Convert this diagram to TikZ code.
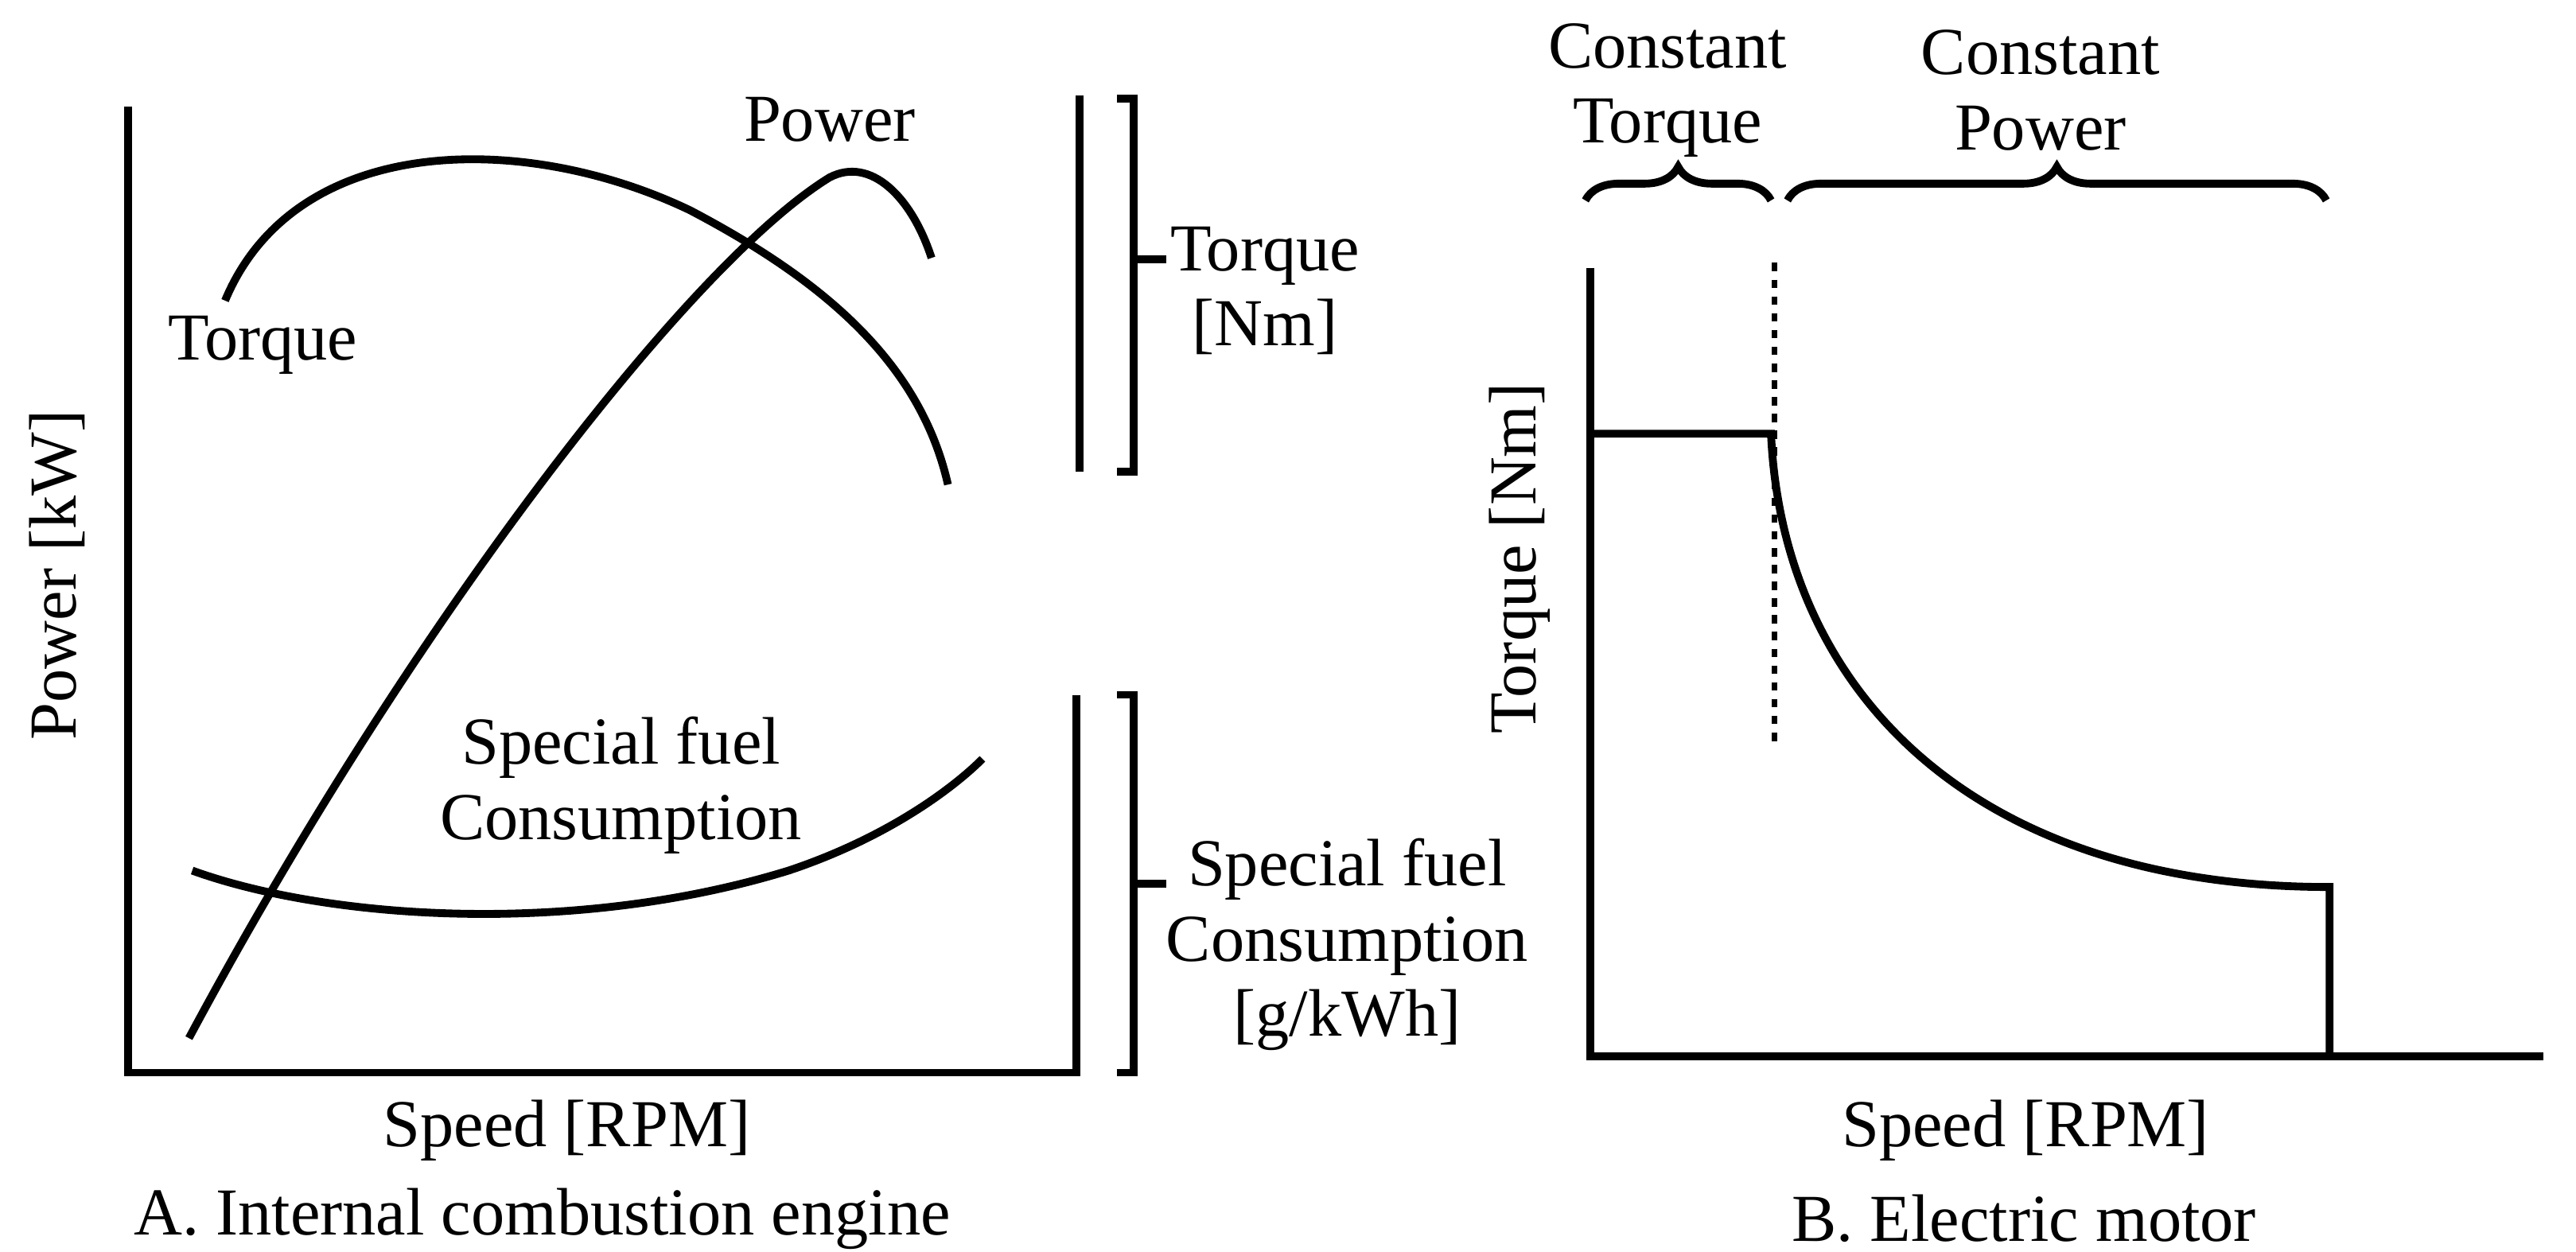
\documentclass[tikz,border=0pt]{standalone}
\usepackage{fontspec}
\setmainfont{Liberation Serif}
\usetikzlibrary{decorations.pathreplacing}
\begin{document}
\begin{tikzpicture}[x=0.02065cm,y=-0.02065cm,
  ln/.style={line width=2.8pt},
  lb/.style={font=\fontsize{24}{27}\selectfont,align=center,inner sep=0pt},
  br/.style={ln,decorate,decoration={brace,amplitude=12pt}}]
\useasboundingbox (0,0) rectangle (1568,762);
% Panel A
\coordinate (ya) at (78,65); \coordinate (oa) at (78,653); \coordinate (xa) at (655,653);
\draw[ln] (ya) -- (oa) -- (xa) -- (655,423);
\draw[ln] (657,58) -- (657,287);
\draw[ln] (680,60) -- (690,60) -- (690,287) -- (680,287);
\draw[ln] (690,158) -- (710,158);
\draw[ln] (680,423) -- (690,423) -- (690,653) -- (680,653);
\draw[ln] (690,538) -- (710,538);
\draw[ln] (137,183) .. controls (180,80) and (320,80) .. (420,128) .. controls (500,170) and (560,220) .. (577,295);
\draw[ln] (115,632) .. controls (250,380) and (420,160) .. (505,108) .. controls (530,95) and (555,120) .. (567,157);
\draw[ln] (117,530) .. controls (200,560) and (350,570) .. (480,530) .. controls (540,510) and (580,480) .. (598,462);
\node[lb] (tp) at (505,73) {Power};
\node[lb] (tt) at (160,210) {Torque};
\node[lb] (tn) at (770,177) {Torque\\{[Nm]}};
\node[lb] (sf) at (378,478) {Special fuel\\Consumption};
\node[lb] (sf2) at (820,575) {Special fuel\\Consumption\\{[g/kWh]}};
\node[lb,rotate=90] (pk) at (35,350) {Power [kW]};
\node[lb] (sa) at (345,688) {Speed [RPM]};
\node[lb] (ta) at (330,742) {A. Internal combustion engine};
% Panel B
\coordinate (yb) at (968,163); \coordinate (ob) at (968,643); \coordinate (xb) at (1548,643);
\draw[ln] (yb) -- (ob) -- (xb);
\draw[ln] (968,264) -- (1078,264) .. controls (1085,420) and (1200,540) .. (1418,540) -- (1418,643);
\draw[line width=2pt,dashed] (1080,160) -- (1080,452);
\draw[br] (965,122) -- (1078,122);
\draw[br] (1088,122) -- (1416,122);
\node[lb] (ct) at (1015,55) {Constant\\Torque};
\node[lb] (cp) at (1242,55) {Constant\\Power};
\node[lb,rotate=90] (tq) at (925,340) {Torque [Nm]};
\node[lb] (sb) at (1233,688) {Speed [RPM]};
\node[lb] (tb) at (1232,742) {B. Electric motor};
\end{tikzpicture}
\end{document}
